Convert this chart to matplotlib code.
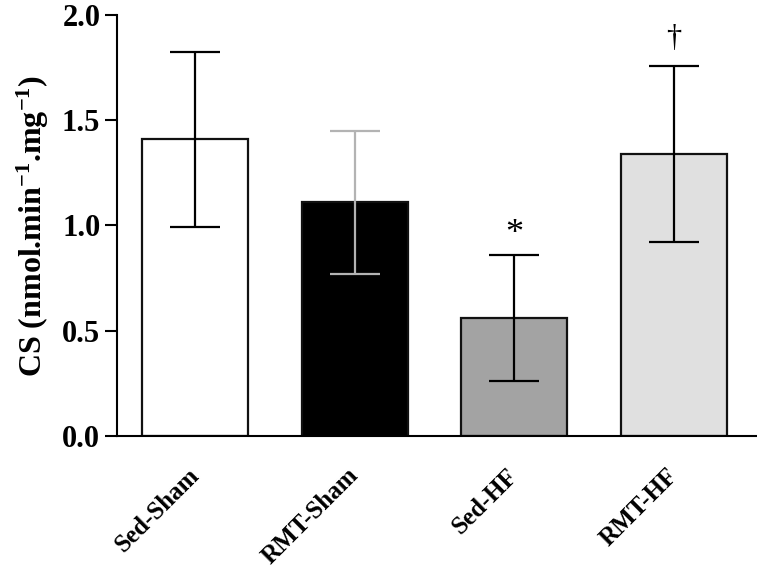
import matplotlib
matplotlib.use('Agg')
import matplotlib.pyplot as plt
import numpy as np

# data
groups = ['Sed-Sham', 'RMT-Sham', 'Sed-HF', 'RMT-HF']
cs_mean = [1.41, 1.11, 0.56, 1.34]
cs_err = [0.415, 0.34, 0.30, 0.42]
bar_colors = ['#ffffff', '#000000', '#a3a3a3', '#e0e0e0']
err_colors = ['#000000', '#b3b3b3', '#000000', '#000000']
marks = ['', '', '*', '\u2020']

plt.rcParams['font.family'] = ['Liberation Serif', 'DejaVu Serif']
plt.rcParams['font.weight'] = 'bold'
plt.rcParams['mathtext.fontset'] = 'custom'
plt.rcParams['mathtext.rm'] = 'Liberation Serif:bold'
plt.rcParams['mathtext.it'] = 'Liberation Serif:bold'
plt.rcParams['mathtext.bf'] = 'Liberation Serif:bold'

fig = plt.figure(figsize=(7.57, 5.72), dpi=100)
ax = fig.add_axes([0.1546, 0.2378, 0.8454, 0.736])

x = np.arange(len(groups))
ax.bar(x, cs_mean, width=0.665, color=bar_colors, edgecolor='#111111',
       linewidth=1.6, zorder=2)
for xi, m, e, c in zip(x, cs_mean, cs_err, err_colors):
    ax.errorbar(xi, m, yerr=e, fmt='none', ecolor=c, elinewidth=1.6,
                capsize=18, capthick=1.6, zorder=3)

# significance marks
for xi, m, e, s in zip(x, cs_mean, cs_err, marks):
    if s == '*':
        ax.text(xi, m + e + 0.02, s, ha='center', va='bottom', fontsize=26,
                fontweight='normal', clip_on=False)
    elif s:
        ax.text(xi, m + e + 0.06, s, ha='center', va='bottom', fontsize=22,
                fontweight='normal', clip_on=False)

ax.set_xlim(-0.49, 3.52)
ax.set_ylim(0, 2.0)
ax.set_yticks([0.0, 0.5, 1.0, 1.5, 2.0])
ax.set_yticklabels(['0.0', '0.5', '1.0', '1.5', '2.0'])
ax.set_xticks(x)
ax.set_xticklabels(groups, rotation=45, ha='right', va='center',
                   rotation_mode='anchor', fontsize=18)

ax.tick_params(axis='y', direction='out', length=9, width=1.5,
               labelsize=22, pad=3)
ax.tick_params(axis='x', length=0, pad=26)

for side in ['top', 'right']:
    ax.spines[side].set_visible(False)
ax.spines['left'].set_linewidth(1.5)
ax.spines['bottom'].set_linewidth(1.5)

ax.set_ylabel('CS (nmol.min$^{-1}$.mg$^{-1}$)', fontsize=23,
              fontweight='bold', labelpad=8)

fig.savefig('out.png', dpi=100, facecolor='white')
